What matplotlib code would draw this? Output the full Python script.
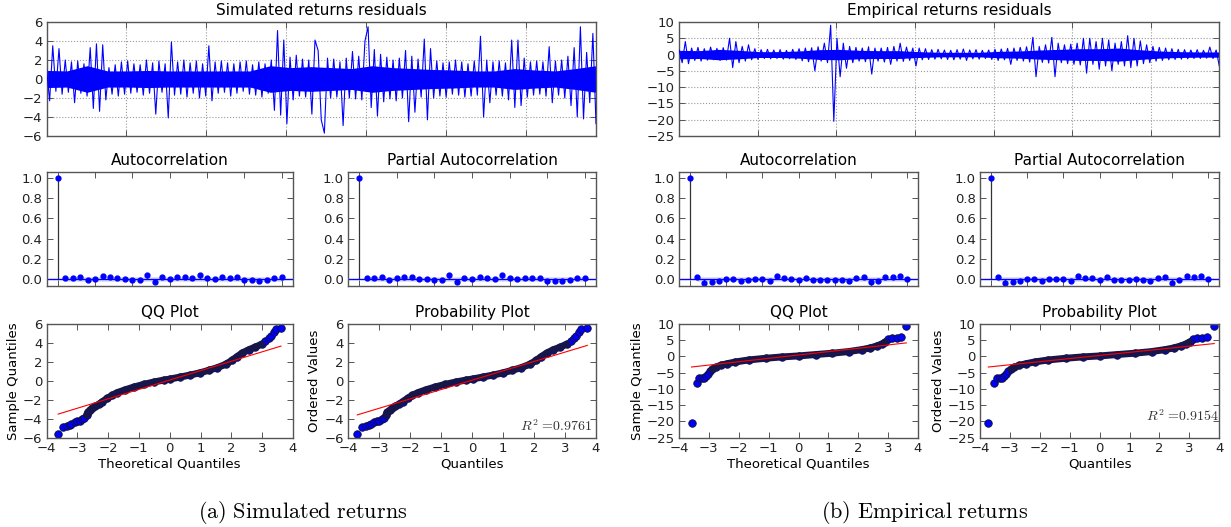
import numpy as np
import matplotlib
matplotlib.use("Agg")
import matplotlib.pyplot as plt

plt.rcParams['font.family'] = ['DejaVu Sans']
plt.rcParams['mathtext.fontset'] = 'cm'

# ---------------- data ----------------
# residual time series (sketched sample by sample, decimated)
sim_resid = [1.2, -2.3, 3.5, -1.3, 3.2, -1.6, 2.0, -1.4, 1.8, -2.5,
             1.9, -1.5, 1.6, -1.8, 3.3, -3.1, 3.7, -3.4, 3.6, -2.2,
             1.2, -1.6, 1.5, -1.8, 1.8, -1.6, 1.9, -1.5, 1.6, -1.4,
             1.5, -1.7, 2.0, -1.5, 1.7, -3.7, 1.9, -1.4, 1.6, -4.1,
             3.9, -1.7, 1.8, -1.6, 2.0, -1.9, 1.7, -1.5, 1.9, -2.0,
             1.6, -1.8, 3.5, -2.3, 1.8, -1.5, 1.9, -1.4, 1.7, -1.8,
             1.6, -1.5, 1.8, -1.3, 1.9, -1.6, 1.5, -1.7, 1.8, -1.9,
             1.6, -1.5, 2.0, -3.3, 5.1, -3.8, 4.1, -4.7, 2.3, -2.2,
             2.5, -1.8, 2.1, -1.9, 2.0, -3.7, 4.1, 3.0, -4.3, -5.7,
             2.2, -2.0, 2.1, -1.9, 1.8, -4.9, 2.2, -2.0, 2.9, -2.1,
             2.4, -2.2, 4.0, 5.5, -3.0, 3.1, -3.9, 2.6, -2.4, 2.3,
             -2.1, 2.0, -2.3, 2.2, -2.0, 3.0, -4.5, 2.4, -3.5, 2.1,
             -1.9, 4.2, -4.3, 3.2, -2.0, 1.9, -1.8, 1.7, -1.9, 1.8,
             -1.6, 2.0, -1.7, 1.8, -1.9, 1.6, -1.8, 1.9, -1.7, 4.5,
             -4.0, 2.0, -2.5, 1.8, -1.7, 1.9, -1.8, 1.7, -2.2, 4.1,
             -3.0, 4.1, -2.8, 2.2, -1.9, 1.8, -1.7, 1.9, -1.6, 1.8,
             -1.8, 3.4, -2.5, 1.9, -1.7, 2.0, -2.0, 2.4, -2.8, 3.3,
             -4.0, 5.5, -4.2, 2.8, -2.5, 4.8, -4.7]
emp_resid = [1.5, -2.5, 4.0, -2.8, 2.0, -1.8, 2.2, -2.0, 1.8, -1.7,
             2.3, -1.6, 1.9, -1.8, 2.1, -1.7, 5.0, -4.0, 4.0, -2.5,
             2.5, -2.0, 3.0, -1.6, 1.8, -1.5, 1.5, -1.2, 1.6, -1.3,
             1.4, -1.2, 1.5, -1.4, 1.3, -1.3, 1.6, -1.5, 1.8, -1.9,
             2.0, -2.2, 2.1, -5.0, 2.4, -2.0, 3.5, -2.5, 9.0, -20.5,
             5.0, -6.8, 3.5, -4.2, 2.5, -2.5, 2.2, -2.0, 2.0, -2.2,
             2.4, -6.0, 2.0, -2.0, 2.0, -2.3, 2.2, -3.0, 2.5, -2.0,
             3.5, -2.1, 2.3, -1.8, 2.0, -3.5, 2.0, -1.6, 1.8, -1.5,
             1.5, -1.4, 1.6, -1.3, 1.4, -1.5, 1.3, -1.6, 1.5, -1.4,
             1.7, -1.8, 1.4, -1.3, 1.5, -1.4, 1.3, -1.2, 1.4, -1.5,
             1.6, -1.8, 1.7, -1.6, 1.9, -3.0, 2.0, -1.8, 2.2, -2.0,
             2.4, -2.3, 5.3, -6.8, 2.5, -2.4, 3.0, -2.6, 5.3, -6.8,
             3.5, -2.5, 3.0, -2.8, 3.2, -3.0, 3.5, -3.2, 5.0, -5.7,
             5.0, -3.0, 4.0, -4.5, 5.0, -3.5, 4.5, -5.0, 3.5, -3.0,
             4.0, -3.5, 5.8, -4.0, 5.0, -3.5, 4.2, -2.8, 3.0, -2.5,
             2.5, -2.0, 2.2, -1.8, 2.0, -1.6, 1.8, -1.5, 1.6, -1.4,
             1.5, -1.3, 1.4, -1.2, 1.5, -1.2, 1.3, -1.1, 2.3, -1.2,
             1.4, -3.5]
# half-width of the densely filled core of each series, per block of samples
sim_core = [0.9, 0.85, 1.4, 0.85, 0.85, 0.9, 0.85, 0.85, 0.85, 0.85, 0.85, 1.4, 1.2, 1.3,
            1.2, 1.1, 1.4, 1.2, 1.1, 1.0, 0.95, 0.85, 0.85, 1.1, 0.95, 0.85, 1.1, 1.4]
emp_core = [1.3, 1.2, 1.6, 1.3, 0.9, 0.9, 1.1, 1.5, 1.6, 1.3, 1.2, 1.2, 0.9, 0.7,
            0.7, 0.7, 1.0, 1.1, 1.4, 1.6, 1.8, 1.8, 2.0, 1.5, 1.1, 0.9, 0.8, 0.8]
n_obs = 6870  # length of each residual series (x-axis extent)

# autocorrelations, lags 1..30 (lag 0 = 1)
sim_acf = [0.016, 0.016, 0.026, -0.007, 0.007, 0.033, 0.026, 0.010, 0.003, -0.010,
           -0.007, 0.039, -0.023, 0.023, 0.000, 0.020, 0.020, 0.010, 0.046, 0.016,
           0.007, 0.020, 0.016, 0.026, -0.010, -0.010, -0.016, -0.003, 0.016, 0.020]
sim_pacf = [0.016, 0.016, 0.026, -0.007, 0.010, 0.026, 0.023, 0.007, 0.003, -0.010,
            -0.007, 0.043, -0.023, 0.016, 0.000, 0.020, 0.016, 0.003, 0.043, 0.013,
            0.007, 0.016, 0.013, 0.016, -0.013, -0.016, -0.016, -0.007, 0.010, 0.016]
emp_acf = [0.020, -0.033, -0.030, -0.017, 0.000, 0.000, -0.020, -0.007, 0.000, 0.003,
           -0.013, 0.033, 0.010, 0.007, -0.010, 0.013, -0.010, -0.010, -0.010, -0.003,
           -0.010, -0.017, 0.010, 0.026, -0.030, -0.013, 0.023, 0.020, 0.033, 0.003]
emp_pacf = [0.020, -0.033, -0.030, -0.017, 0.000, 0.000, -0.020, 0.000, 0.000, 0.000,
            -0.013, 0.030, 0.010, 0.013, -0.010, 0.020, -0.003, -0.003, -0.007, 0.000,
            -0.010, -0.013, 0.013, 0.020, -0.033, -0.010, 0.030, 0.020, 0.030, 0.003]
conf_band = 0.024

# QQ / probability plot points
sim_sample = [-5.65, -4.88, -4.74, -4.67, -4.56, -4.39, -4.28, -4.21, -4.07, -3.89,
              -3.61, -3.33, -3.12, -2.91, -2.70, -2.49, -2.21, -1.86, -1.54, -1.26,
              -0.95, -0.67, -0.39, -0.14, 0.07, 0.18, 0.39, 0.60, 0.84, 1.09,
              1.37, 1.72, 2.14, 2.53, 2.91, 3.26, 3.54, 3.86, 4.18, 4.46,
              4.67, 5.16, 5.44, 5.51]
sim_qq_theo = [-3.62, -3.46, -3.35, -3.25, -3.19, -3.09, -3.01, -2.92, -2.84, -2.77,
               -2.70, -2.66, -2.59, -2.52, -2.41, -2.30, -2.19, -2.03, -1.87, -1.71,
               -1.44, -1.17, -0.85, -0.52, -0.19, 0.02, 0.34, 0.67, 0.99, 1.26,
               1.54, 1.81, 2.02, 2.18, 2.35, 2.56, 2.78, 2.99, 3.10, 3.21,
               3.29, 3.37, 3.44, 3.61]
sim_pp_theo = [-3.70, -3.54, -3.43, -3.33, -3.27, -3.17, -3.08, -2.99, -2.91, -2.84,
               -2.77, -2.73, -2.65, -2.58, -2.47, -2.36, -2.24, -2.08, -1.92, -1.75,
               -1.48, -1.20, -0.87, -0.53, -0.19, 0.02, 0.35, 0.69, 1.01, 1.29,
               1.58, 1.86, 2.07, 2.23, 2.41, 2.62, 2.85, 3.06, 3.18, 3.29,
               3.37, 3.45, 3.53, 3.72]
emp_sample = [-20.38, -8.23, -6.68, -6.68, -6.58, -5.96, -5.35, -4.62, -4.00, -3.39,
              -2.77, -2.26, -1.74, -1.12, -0.61, -0.20, 0.11, 0.53, 0.94, 1.45,
              2.07, 2.58, 3.20, 3.82, 4.44, 5.16, 5.47, 5.67, 5.88, 9.28]
emp_qq_theo = [-3.58, -3.41, -3.32, -3.24, -3.16, -3.11, -3.04, -2.97, -2.89, -2.77,
               -2.61, -2.38, -2.11, -1.66, -1.10, -0.55, 0.01, 0.57, 1.13, 1.68,
               2.13, 2.41, 2.63, 2.80, 2.91, 3.00, 3.13, 3.30, 3.44, 3.61]
emp_pp_theo = [-3.72, -3.52, -3.42, -3.33, -3.25, -3.19, -3.12, -3.05, -2.97, -2.85,
               -2.68, -2.45, -2.17, -1.71, -1.14, -0.57, 0.01, 0.59, 1.17, 1.74,
               2.20, 2.49, 2.72, 2.90, 3.01, 3.11, 3.25, 3.43, 3.60, 3.83]
# fitted reference lines (slope, intercept)
sim_qq_fit = (0.99, 0.07)
sim_pp_fit = (0.986, 0.05)
emp_qq_fit = (1.03, 0.39)
emp_pp_fit = (0.954, 0.25)
sim_r2 = 0.9761
emp_r2 = 0.9154

# ---------------- figure ----------------
W, H = 1231, 527
fig = plt.figure(figsize=(W / 100, H / 100), dpi=100)

FRAME = '#555555'


def add_ax(l, r, t, b):
    return fig.add_axes([l / W, 1 - b / H, (r - l) / W, (b - t) / H])


def style(ax):
    for s in ax.spines.values():
        s.set_color(FRAME)
        s.set_linewidth(1.0)
    ax.tick_params(direction='in', top=True, right=True, length=4, width=0.7,
                   color=FRAME, labelsize=9.5, pad=3, labelcolor='#222222')


def ts_panel(ax, vals, core, ylim, yticks, title):
    t = np.linspace(0, n_obs, len(vals))
    tc = np.linspace(0, n_obs, len(core))
    core = np.asarray(core)
    ax.fill_between(tc, -core, core, color='b', lw=0, zorder=2)
    ax.plot(t, vals, color='b', lw=0.8, zorder=3)
    ax.set_xlim(0, n_obs)
    ax.set_ylim(*ylim)
    ax.set_yticks(yticks)
    ax.set_xticks(np.arange(0, n_obs, 1000))
    ax.set_xticklabels([])
    ax.grid(True, color='#9a9a9a', linestyle=':', lw=0.8, zorder=1)
    ax.set_axisbelow(True)
    ax.set_title(title, fontsize=11, pad=5)
    style(ax)


def acf_panel(ax, vals, title):
    lags = np.arange(len(vals) + 1)
    acf = np.r_[1.0, vals]
    ax.fill_between(lags[1:], -conf_band, conf_band, color='b', alpha=0.12, lw=0)
    ax.vlines(lags, 0, acf, color='#333333', lw=0.9)
    ax.axhline(0, color='b', lw=1.0)
    ax.plot(lags, acf, 'o', color='b', mec='b', ms=3.5)
    ax.set_xlim(-1.5, 31.5)
    ax.set_ylim(-0.066, 1.053)
    ax.set_xticks(np.arange(0, 31, 5))
    ax.set_xticklabels([])
    ax.set_yticks(np.arange(0, 1.01, 0.2))
    ax.set_yticklabels(['%.1f' % v for v in np.arange(0, 1.01, 0.2)])
    ax.set_title(title, fontsize=11, pad=5)
    style(ax)


def qq_panel(ax, theo, samp, fit, ylim, yticks, title, xlabel, ylabel,
             body, r2=None, r2y=0.06):
    theo = np.asarray(theo)
    samp = np.asarray(samp)
    ax.plot(theo, samp, 'o', mfc='b', mec='#101030', mew=0.6, ms=5.4, zorder=2)
    lo, hi = body
    ax.plot(theo[lo:hi], samp[lo:hi], color='#16164a', lw=5.0,
            solid_capstyle='round', zorder=3)
    xs = np.array([theo.min(), theo.max()])
    ax.plot(xs, fit[1] + fit[0] * xs, color='r', lw=0.8, zorder=4)
    ax.set_xlim(-4, 4)
    ax.set_ylim(*ylim)
    ax.set_xticks(np.arange(-4, 5, 1))
    ax.set_yticks(yticks)
    ax.set_title(title, fontsize=11, pad=5)
    ax.set_xlabel(xlabel, fontsize=9.5, labelpad=2)
    ax.set_ylabel(ylabel, fontsize=9.5, labelpad=2)
    if r2 is not None:
        ax.text(0.695, r2y, r'$R^2\ \text{=}%.4f$' % r2, transform=ax.transAxes,
                fontsize=10, color='#333333')
    style(ax)


# columns (pixel extents)
A1 = (46.5, 293)
A2 = (348, 596)
B1 = (679, 918)
B2 = (980, 1219.3)
ROW_TS = (22, 136)
ROW_ACF = (172.3, 286)
ROW_QQ = (323.7, 437.7)

ax = add_ax(A1[0], A2[1], *ROW_TS)
ts_panel(ax, sim_resid, sim_core, (-6, 6), np.arange(-6, 7, 2),
         'Simulated returns residuals')
ax = add_ax(B1[0], B2[1], *ROW_TS)
ts_panel(ax, emp_resid, emp_core, (-25, 10), np.arange(-25, 11, 5),
         'Empirical returns residuals')

acf_panel(add_ax(*A1, *ROW_ACF), sim_acf, 'Autocorrelation')
acf_panel(add_ax(*A2, *ROW_ACF), sim_pacf, 'Partial Autocorrelation')
acf_panel(add_ax(*B1, *ROW_ACF), emp_acf, 'Autocorrelation')
acf_panel(add_ax(*B2, *ROW_ACF), emp_pacf, 'Partial Autocorrelation')

qq_panel(add_ax(*A1, *ROW_QQ), sim_qq_theo, sim_sample, sim_qq_fit, (-6, 6),
         np.arange(-6, 7, 2), 'QQ Plot', 'Theoretical Quantiles', 'Sample Quantiles',
         body=(10, 38))
qq_panel(add_ax(*A2, *ROW_QQ), sim_pp_theo, sim_sample, sim_pp_fit, (-6, 6),
         np.arange(-6, 7, 2), 'Probability Plot', 'Quantiles', 'Ordered Values',
         body=(10, 38), r2=sim_r2, r2y=0.06)
qq_panel(add_ax(*B1, *ROW_QQ), emp_qq_theo, emp_sample, emp_qq_fit, (-25, 10),
         np.arange(-25, 11, 5), 'QQ Plot', 'Theoretical Quantiles', 'Sample Quantiles',
         body=(8, 25))
qq_panel(add_ax(*B2, *ROW_QQ), emp_pp_theo, emp_sample, emp_pp_fit, (-25, 10),
         np.arange(-25, 11, 5), 'Probability Plot', 'Quantiles', 'Ordered Values',
         body=(8, 25), r2=emp_r2, r2y=0.15)

fig.text(303 / W, 1 - 513 / H, r'$\mathrm{(a)\ Simulated\ returns}$',
         ha='center', va='center', fontsize=16)
fig.text(925 / W, 1 - 513 / H, r'$\mathrm{(b)\ Empirical\ returns}$',
         ha='center', va='center', fontsize=16)

fig.savefig('out.png', dpi=100)
